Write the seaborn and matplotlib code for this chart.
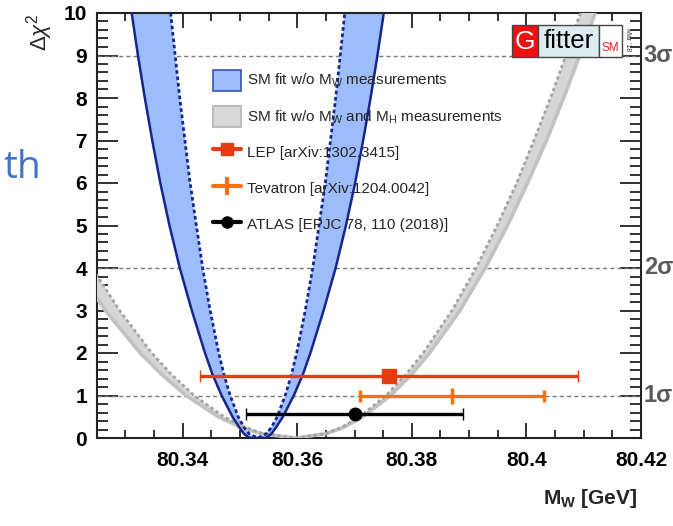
import numpy as np
import pandas as pd
import matplotlib
matplotlib.use("Agg")
import matplotlib.pyplot as plt
import seaborn as sns
from matplotlib.patches import Rectangle, Patch
from matplotlib.lines import Line2D
from matplotlib.ticker import MultipleLocator

# ---------------- data ----------------
levels = [0, 0.1, 0.25, 0.5, 1, 1.5, 2, 3, 4, 5, 6, 7, 8, 9, 10]

# SM fit w/o MW (blue band): solid (wide) and dashed (narrow) edges
blue_solid_left = [80.3517, 80.3507, 80.3499, 80.3487, 80.3468, 80.3452, 80.3439, 80.3416,
                   80.3395, 80.3377, 80.3361, 80.3347, 80.3334, 80.3322, 80.3311]
blue_solid_right = [80.3545, 80.3555, 80.3563, 80.3575, 80.3594, 80.3610, 80.3623, 80.3646,
                    80.3667, 80.3685, 80.3701, 80.3715, 80.3728, 80.3740, 80.3751]
blue_dash_left = [80.3531, 80.3516, 80.3507, 80.3497, 80.3483, 80.3472, 80.3463, 80.3448,
                  80.3435, 80.3424, 80.3413, 80.3404, 80.3395, 80.3387, 80.3379]
blue_dash_right = [80.3531, 80.3546, 80.3555, 80.3565, 80.3579, 80.3590, 80.3599, 80.3614,
                   80.3627, 80.3638, 80.3649, 80.3658, 80.3667, 80.3675, 80.3683]

# SM fit w/o MW and MH (grey band)
gray_solid_left = [80.3598, 80.3537, 80.3502, 80.3462, 80.3406, 80.3363, 80.3326, 80.3265,
                   80.3214, 80.3169, 80.3128, 80.3090, 80.3055, 80.3022, 80.2991]
gray_solid_right = [80.3598, 80.3650, 80.3681, 80.3715, 80.3763, 80.3800, 80.3831, 80.3884,
                    80.3928, 80.3967, 80.4002, 80.4035, 80.4065, 80.4093, 80.4120]
gray_dash_left = [80.3598, 80.3542, 80.3509, 80.3472, 80.3420, 80.3380, 80.3346, 80.3290,
                  80.3242, 80.3200, 80.3162, 80.3127, 80.3095, 80.3064, 80.3035]
gray_dash_right = [80.3598, 80.3648, 80.3677, 80.3709, 80.3755, 80.3790, 80.3820, 80.3870,
                   80.3912, 80.3949, 80.3983, 80.4013, 80.4042, 80.4069, 80.4094]

# Measurements
meas_names = ["LEP [arXiv:1302.3415]", "Tevatron [arXiv:1204.0042]", "ATLAS [EPJC 78, 110 (2018)]"]
meas_mw = [80.376, 80.387, 80.370]
meas_err = [0.033, 0.016, 0.019]
meas_y = [1.45, 0.99, 0.56]
meas_colors = ["#e63c0f", "#ff6e14", "#000000"]

sigma_levels = [1, 4, 9]
sigma_digits = ["1", "2", "3"]

x_ticks = [80.34, 80.36, 80.38, 80.40, 80.42]
x_ticklabels = ["80.34", "80.36", "80.38", "80.4", "80.42"]
y_ticks = [0, 1, 2, 3, 4, 5, 6, 7, 8, 9, 10]

# ---------------- style ----------------
sns.set_theme(style="ticks")
plt.rcParams["font.family"] = ["Liberation Sans", "DejaVu Sans"]
plt.rcParams["mathtext.fontset"] = "custom"
plt.rcParams["mathtext.rm"] = "Liberation Sans"
plt.rcParams["mathtext.it"] = "Liberation Sans:italic"
plt.rcParams["mathtext.bf"] = "Liberation Sans:bold"

W, H = 673, 526
fig = plt.figure(figsize=(W / 100, H / 100), dpi=100)
fig.patch.set_facecolor("white")
ax = fig.add_axes([96.7 / W, 88 / H, 544.3 / W, 425 / H])
ax.set_facecolor("white")


def curve(left, right):
    xs = list(reversed(left)) + list(right)
    ys = list(reversed(levels)) + list(levels)
    return pd.DataFrame({"x": xs, "y": ys})


blue_solid = curve(blue_solid_left, blue_solid_right)
blue_dash = curve(blue_dash_left, blue_dash_right)
gray_solid = curve(gray_solid_left, gray_solid_right)
gray_dash = curve(gray_dash_left, gray_dash_right)

# sigma reference lines
for lv in sigma_levels:
    ax.axhline(lv, color="#7a7a7a", lw=1.0, ls=(0, (3, 2.2)), zorder=1)

# blue band fill
ax.fill(np.r_[blue_solid.x, blue_dash.x[::-1]], np.r_[blue_solid.y, blue_dash.y[::-1]],
        color="#9dbcfa", lw=0, zorder=2)
# grey band fill
ax.fill(np.r_[gray_solid.x, gray_dash.x[::-1]], np.r_[gray_solid.y, gray_dash.y[::-1]],
        color="#d6d6d6", lw=0, zorder=3)
sns.lineplot(data=gray_solid, x="x", y="y", sort=False, estimator=None, ax=ax,
             color="#c2c2c2", lw=2.6, zorder=3.5)
sns.lineplot(data=gray_dash, x="x", y="y", sort=False, estimator=None, ax=ax,
             color="#a5a5a5", lw=2.0, ls=(0, (1.2, 1.0)), zorder=3.6)
sns.lineplot(data=blue_solid, x="x", y="y", sort=False, estimator=None, ax=ax,
             color="#17258c", lw=1.8, zorder=4)
sns.lineplot(data=blue_dash, x="x", y="y", sort=False, estimator=None, ax=ax,
             color="#17258c", lw=2.0, ls=(0, (1.3, 1.0)), zorder=4)

# measurements
markers = ["s", "|", "o"]
msizes = [10, 11, 9]
for i in range(3):
    ax.errorbar(meas_mw[i], meas_y[i], xerr=meas_err[i], fmt=markers[i],
                color=meas_colors[i], ms=msizes[i], mew=2.5 if markers[i] == "|" else 1,
                elinewidth=2.4, capsize=4.5, capthick=1.8, zorder=5)

ax.set_xlim(80.325, 80.42)
ax.set_ylim(0, 10)
ax.set_xlabel("")
ax.set_ylabel("")

ax.set_xticks(x_ticks)
ax.set_xticklabels(x_ticklabels)
ax.set_yticks(y_ticks)
ax.xaxis.set_minor_locator(MultipleLocator(0.005))
ax.yaxis.set_minor_locator(MultipleLocator(0.2))
ax.tick_params(which="both", direction="in", top=True, right=True, color="#222222", width=1.3)
ax.tick_params(which="major", axis="x", length=11)
ax.tick_params(which="minor", axis="x", length=6)
ax.tick_params(which="major", axis="y", length=15)
ax.tick_params(which="minor", axis="y", length=8)
ax.tick_params(axis="x", pad=9)
ax.tick_params(axis="y", pad=7)
for lab in ax.get_xticklabels() + ax.get_yticklabels():
    lab.set_fontsize(15)
    lab.set_fontweight("bold")
    lab.set_color("black")
for sp in ax.spines.values():
    sp.set_visible(True)
    sp.set_color("#222222")
    sp.set_linewidth(1.5)

# sigma labels on the right
for lv, d in zip(sigma_levels, sigma_digits):
    ax.text(1.005, lv, d + "σ", transform=ax.get_yaxis_transform(), ha="left", va="center",
            fontsize=17, fontweight="bold", color="#5a5a5a")

# axis titles
fig.text(637 / W, 1 - 498 / H, r"M$_{\mathbf{W}}$ [GeV]", ha="right", va="center",
         fontsize=15, fontweight="bold")
fig.text(40 / W, 1 - 32 / H, r"$\Delta\chi^{2}$", rotation=90, ha="center", va="center",
         fontsize=16)

# legend
handles = [
    Patch(facecolor="#9dbcfa", edgecolor="#3552b5", lw=1.2),
    Patch(facecolor="#d9d9d9", edgecolor="#bdbdbd", lw=1.5),
    Line2D([], [], color=meas_colors[0], lw=3, marker="s", ms=9),
    Line2D([], [], color=meas_colors[1], lw=3, marker="|", ms=13, mew=3),
    Line2D([], [], color=meas_colors[2], lw=3, marker="o", ms=8),
]
labels = [
    r"SM fit w/o M$_{\mathregular{W}}$ measurements",
    r"SM fit w/o M$_{\mathregular{W}}$ and M$_{\mathregular{H}}$ measurements",
] + meas_names
leg = ax.legend(handles, labels, loc="upper left", bbox_to_anchor=(213 / W, 1 - 69.5 / H),
                bbox_transform=fig.transFigure, frameon=False, fontsize=11,
                borderpad=0, borderaxespad=0, handlelength=1.85, handleheight=1.75,
                handletextpad=0.35, labelspacing=0.98)
leg.set_zorder(6)

# Gfitter logo
def box(x0, x1, y0, y1, fc):
    fig.add_artist(Rectangle((x0 / W, 1 - y1 / H), (x1 - x0) / W, (y1 - y0) / H,
                             transform=fig.transFigure, facecolor=fc, edgecolor="#444444",
                             lw=1.0, zorder=10))

box(512, 538, 25, 57, "#ee1111")
box(538, 599, 25, 57, "#dcecef")
box(599, 622, 25, 57, "white")
fig.text(525 / W, 1 - 42 / H, "G", color="white", fontsize=19, ha="center", va="center", zorder=11)
fig.text(568.5 / W, 1 - 41 / H, "fitter", color="black", fontsize=18.5, ha="center", va="center", zorder=11)
fig.text(610.5 / W, 1 - 48 / H, "SM", color="#ee2222", fontsize=8.5, ha="center", va="center", zorder=11)
fig.text(628 / W, 1 - 40 / H, "Mar '18", color="#333333", fontsize=5, rotation=270,
         ha="center", va="center", zorder=11)

# stray slide text at the left edge
fig.text(3 / W, 1 - 168 / H, "th", color="#4472c4", fontsize=28, ha="left", va="center",
         family=["Open Sans", "DejaVu Sans"])

fig.savefig("out.png", dpi=100, facecolor="white")
